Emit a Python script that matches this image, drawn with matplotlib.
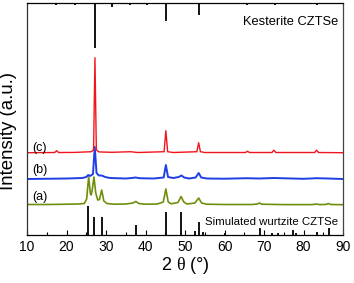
import matplotlib
matplotlib.use("Agg")
import matplotlib.pyplot as plt

plt.rcParams['font.family'] = ['Liberation Sans', 'DejaVu Sans']
plt.rcParams['mathtext.fontset'] = 'custom'
plt.rcParams['mathtext.rm'] = 'Liberation Serif'

# ---- data (2theta in degrees, intensity in arbitrary units) ----
# (a) as-synthesized, wurtzite-rich
a_2theta = [10, 15, 20, 23, 24.5, 25.1, 25.6, 26.05, 26.25, 26.5, 26.95, 27.4, 27.9, 28.35, 28.9,
            29.45, 30.2, 32, 35, 36.8, 37.55, 38.3, 40, 43, 44.5, 45.15, 45.75, 46.5, 48.2,
            49.0, 49.7, 50.5, 52.5, 53.45, 54.2, 55.5, 60, 67, 68.3, 68.85, 69.4, 75, 82,
            83.4, 84, 85.7, 86.3, 86.9, 90]
a_int = [0.5, 0.5, 0.8, 1.0, 1.5, 6, 28, 11, 10, 15, 28, 12, 5, 5.5, 15,
         4, 1.5, 0.8, 1, 2, 3.5, 1.5, 0.8, 1, 3, 16, 3, 1.2, 2.5,
         8.5, 3, 1, 2, 7, 2, 0.8, 0.5, 0.5, 1, 2, 0.8, 0.4, 0.4,
         0.9, 0.4, 0.6, 1.5, 0.5, 0.3]

# (b) intermediate
b_2theta = [10, 20, 24, 25.0, 25.5, 26.0, 26.7, 27.15, 27.6, 28.2, 28.9, 29.8, 31, 35,
            36.5, 37.5, 38.5, 42, 44.6, 45.15, 45.7, 47, 48.4, 49.1, 49.8, 51, 52.7,
            53.45, 54.1, 55.5, 60, 65.7, 68.8, 72.5, 80, 83.3, 86.3, 90]
b_int = [0, 0.5, 1, 2, 4, 3, 5, 32, 6, 3.5, 3.5, 2, 1, 0.5,
         1, 1.5, 0.8, 0.5, 1.5, 14, 2, 1, 2, 3.5, 1.5, 0.5, 1.5,
         6, 1.5, 0.5, 0.3, 0.8, 0.5, 1, 0.2, 0.8, 0.5, 0]

# (c) kesterite after annealing
c_2theta = [10, 17.0, 17.5, 18, 22, 26.3, 26.85, 27.2, 27.55, 28.2, 31.5, 36.2, 38, 44.7,
            45.15, 45.6, 47, 53.0, 53.45, 53.9, 55, 65.3, 65.8, 66.3, 72.0, 72.5, 73.0,
            82.8, 83.3, 83.8, 90]
c_int = [0, 0.2, 2, 0.2, 0.3, 1, 3, 95, 3, 0.8, 0.4, 1, 0.2, 1,
         22, 1, 0.2, 1, 10, 1, 0.2, 0.2, 1.5, 0.2, 0.2, 2.5, 0.2,
         0.2, 2.5, 0.2, 0]

# reference patterns
kest_pos = [17.4, 22.1, 27.2, 31.4, 36.1, 40.3, 45.2, 53.5, 65.7, 72.7, 83.5]
kest_int = [1.5, 1.5, 45, 4, 1.5, 1.5, 18, 12, 2, 2, 2]

wurtz_pos = [25.5, 27.0, 28.9, 37.5, 45.2, 49.1, 52.6, 53.5, 54.5, 60.0, 68.9, 72.0,
             73.6, 77.3, 78.1, 83.5, 86.4]
wurtz_int = [29, 18, 18, 10, 23, 23, 4.5, 13, 3, 2, 7, 2.5, 2.5, 5, 2, 3, 7]

labels = ['(a)', '(b)', '(c)']
xticks = [10, 20, 30, 40, 50, 60, 70, 80, 90]

# ---- layout / style ----
offsets = [30, 56, 82.3]
colors = ['#6f8f0c', '#1f3fe6', '#f2141c']
lws = [1.2, 1.4, 1.0]
ytop = 232

fig = plt.figure(figsize=(3.54, 2.83), dpi=100)
ax = fig.add_axes([0.0763, 0.1696, 0.8927, 0.8197])

series = [(a_2theta, a_int), (b_2theta, b_int), (c_2theta, c_int)]
for (xs, ys), off, col, lw in zip(series, offsets, colors, lws):
    ax.plot(xs, [v + off for v in ys], color=col, lw=lw, solid_joinstyle='round')

ax.vlines(wurtz_pos, 0, wurtz_int, color='black', lw=1.3)
ax.vlines(kest_pos, [ytop - v for v in kest_int], ytop, color='black', lw=1.3)

label_y = [38, 65, 87.5]
for lab, ly in zip(labels, label_y):
    ax.text(11.2, ly, lab, fontsize=9, ha='left', va='center')

ax.text(88.7, 213.5, 'Kesterite CZTSe', fontsize=9.3, ha='right', va='center')
ax.text(88.7, 12.7, 'Simulated wurtzite CZTSe', fontsize=8.2, ha='right', va='center')

ax.set_xlim(10, 90)
ax.set_ylim(0, ytop)
ax.set_xticks(xticks)
ax.set_xticks(range(15, 90, 10), minor=True)
ax.set_yticks([])
ax.tick_params(axis='x', which='major', direction='in', length=3.5, width=0.8,
               labelsize=10, pad=3.5, top=False)
ax.tick_params(axis='x', which='minor', direction='in', length=2, width=0.8, top=False)

for s in ax.spines.values():
    s.set_linewidth(0.9)
ax.spines['right'].set_color('#444444')
ax.spines['left'].set_color('#333333')

ax.set_xlabel(r'2 $\mathrm{\theta}$ (°)', fontsize=13, labelpad=1)
ax.set_ylabel('Intensity (a.u.)', fontsize=13.4)
ax.yaxis.set_label_coords(-0.032, 0.448)

fig.savefig('out.png', dpi=100)
